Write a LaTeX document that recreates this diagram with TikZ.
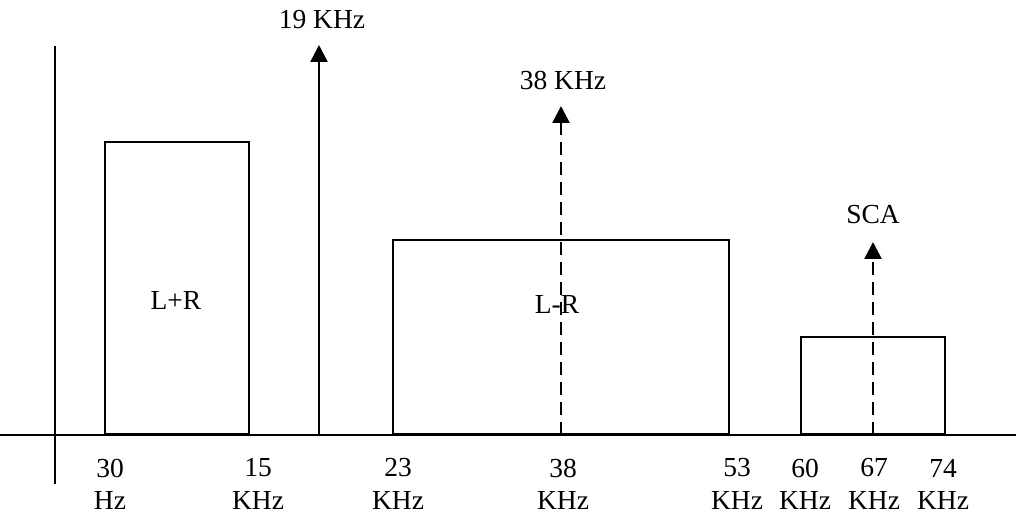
\documentclass[tikz,border=0pt]{standalone}
\usepackage{fontspec}
\setmainfont{Liberation Serif}
\usetikzlibrary{arrows.meta}
\newlength{\du}
\setlength{\du}{1pt}
\tikzset{
  axisline/.style={line width=2.6\du},
  band/.style={draw, line width=2.4\du, inner sep=0pt, anchor=south west},
  carrier/.style={line width=2.6\du, -{Triangle[width=17pt,length=17pt]}},
  subcarrier/.style={carrier, dash pattern=on 13pt off 7pt},
  lbl/.style={font=\fontsize{27.5}{30}\selectfont, inner sep=0pt},
}

\begin{document}
\begin{tikzpicture}
\pgftransformxscale{1.000000}
\pgftransformyscale{-1.000000}
\useasboundingbox (0\du,0\du) rectangle (1016\du,518\du);
% axes
\coordinate (xleft) at (0\du,435\du);
\coordinate (xright) at (1016\du,435\du);
\coordinate (ytop) at (55\du,46\du);
\coordinate (ybot) at (55\du,484\du);
\draw[axisline] (xleft)--(xright);
\draw[axisline] (ytop)--(ybot);
% bands
\node[band, minimum width=144\du, minimum height=292\du] (lplusr) at (104\du,435\du) {};
\node[band, minimum width=336\du, minimum height=194\du] (lminusr) at (392\du,435\du) {};
\node[band, minimum width=144\du, minimum height=97\du] (sca) at (800\du,435\du) {};
\node[lbl] (lplusrtext) at (176\du,300\du) {L+R};
\node[lbl] (lminusrtext) at (557\du,304\du) {L-R};
% carriers
\coordinate (pilotfoot) at (319\du,435\du);
\coordinate (pilottip) at (319\du,45\du);
\draw[carrier] (pilotfoot)--(pilottip);
\node[lbl] (pilottext) at (322\du,20\du) {19 KHz};
\coordinate (stereofoot) at (561\du,435\du);
\coordinate (stereotip) at (561\du,106\du);
\draw[subcarrier] (stereofoot)--(stereotip);
\node[lbl] (stereotext) at (563\du,80\du) {38 KHz};
\coordinate (scafoot) at (873\du,435\du);
\coordinate (scatip) at (873\du,242\du);
\draw[subcarrier] (scafoot)--(scatip);
\node[lbl] (scatext) at (873\du,215\du) {SCA};
% frequency marks
\node[lbl] (f30) at (110\du,468\du) {30};
\node[lbl] (u30) at (110\du,500\du) {Hz};
\foreach \x/\f in {258/15,398/23,563/38,737/53,805/60,874/67,943/74}{
  \node[lbl] (f\f) at (\x\du,468\du) {\f};
  \node[lbl] (u\f) at (\x\du,500\du) {KHz};
}
\end{tikzpicture}
\end{document}
